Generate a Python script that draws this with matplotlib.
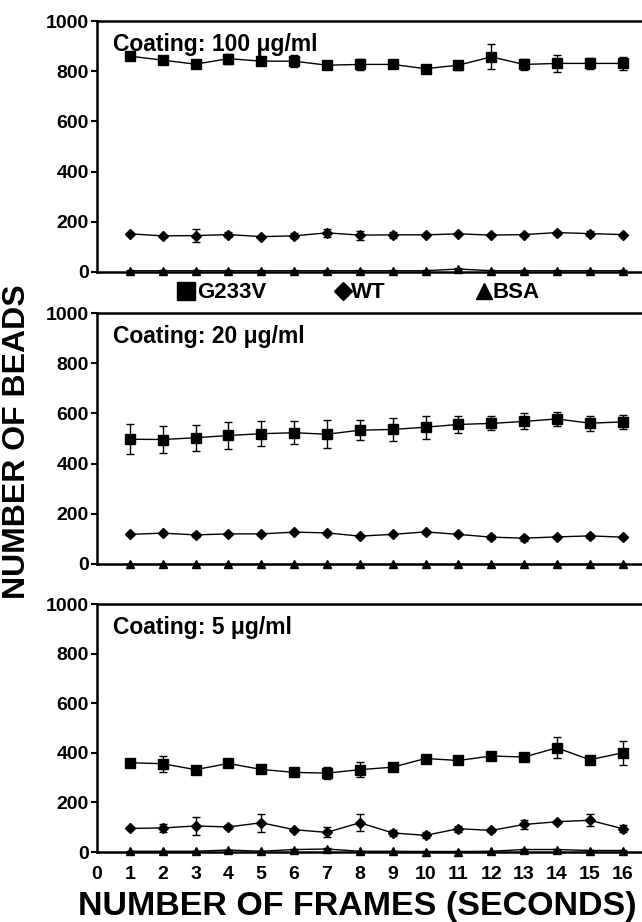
import matplotlib
matplotlib.use("Agg")
import matplotlib.pyplot as plt
from matplotlib.lines import Line2D

plt.rcParams['font.family'] = ['Liberation Sans', 'DejaVu Sans']
plt.rcParams['font.weight'] = 'bold'

frames = list(range(1, 17))
x_ticks = list(range(0, 17))
y_ticks = [0, 200, 400, 600, 800, 1000]
titles = ["Coating: 100 \u03bcg/ml", "Coating: 20 \u03bcg/ml", "Coating: 5 \u03bcg/ml"]
series_names = ["G233V", "WT", "BSA"]

# Panel 1: 100 ug/ml
g233v_100 = [860, 844, 828, 850, 840, 840, 824, 827, 827, 810, 824, 857, 827, 831, 831, 831]
g233v_100_err = [5, 5, 5, 20, 5, 25, 10, 22, 15, 8, 18, 50, 22, 33, 22, 26]
wt_100 = [152, 144, 145, 149, 141, 144, 156, 147, 148, 148, 152, 147, 149, 157, 153, 149]
wt_100_err = [3, 3, 26, 10, 3, 10, 15, 18, 12, 4, 3, 3, 3, 8, 10, 3]
bsa_100 = [5, 5, 5, 5, 5, 5, 5, 5, 5, 5, 12, 5, 5, 5, 5, 5]
bsa_100_err = [1, 1, 1, 1, 1, 1, 1, 1, 1, 1, 3, 1, 1, 1, 1, 1]

# Panel 2: 20 ug/ml
g233v_20 = [497, 496, 503, 512, 519, 523, 517, 533, 536, 545, 556, 560, 568, 578, 561, 566]
g233v_20_err = [60, 54, 52, 55, 50, 45, 55, 40, 47, 45, 35, 28, 32, 28, 30, 29]
wt_20 = [118, 123, 116, 120, 120, 127, 124, 111, 118, 128, 118, 107, 103, 108, 112, 107]
wt_20_err = [3, 3, 8, 4, 3, 4, 3, 3, 3, 3, 3, 8, 10, 3, 8, 3]
bsa_20 = [1, 1, 1, 1, 1, 1, 1, 1, 1, 1, 1, 1, 1, 1, 1, 1]
bsa_20_err = [0, 0, 0, 0, 0, 0, 0, 0, 0, 0, 0, 0, 0, 0, 0, 0]

# Panel 3: 5 ug/ml
g233v_5 = [360, 356, 332, 357, 333, 321, 318, 332, 342, 377, 369, 387, 383, 420, 372, 400]
g233v_5_err = [10, 33, 5, 8, 15, 12, 25, 30, 8, 5, 5, 5, 5, 42, 15, 49]
wt_5 = [95, 97, 105, 101, 118, 90, 79, 118, 77, 67, 94, 87, 111, 122, 128, 94]
wt_5_err = [4, 15, 37, 8, 37, 4, 20, 35, 12, 12, 12, 5, 20, 5, 25, 15]
bsa_5 = [3, 3, 3, 8, 3, 10, 12, 3, 3, 2, 2, 3, 10, 10, 6, 6]
bsa_5_err = [1, 1, 1, 2, 1, 3, 4, 1, 1, 1, 1, 1, 3, 3, 2, 2]

panels = [
    (g233v_100, g233v_100_err, wt_100, wt_100_err, bsa_100, bsa_100_err),
    (g233v_20, g233v_20_err, wt_20, wt_20_err, bsa_20, bsa_20_err),
    (g233v_5, g233v_5_err, wt_5, wt_5_err, bsa_5, bsa_5_err),
]

W, H = 642, 922
fig = plt.figure(figsize=(W / 100, H / 100), dpi=100)

left_px = 97
unit_px = 32.85
left = left_px / W
width = 1.0 - left
tops = [21, 313, 604]
bottoms = [272, 564, 852]

for i, (top, bot) in enumerate(zip(tops, bottoms)):
    ax = fig.add_axes([left, 1 - bot / H, width, (bot - top) / H])
    g, ge, w, we, b, be = panels[i]
    for vals, errs, m, ms in [(b, be, '^', 5.5), (w, we, 'D', 5), (g, ge, 's', 7)]:
        ax.errorbar(frames, vals, yerr=errs, color='black', marker=m, markersize=ms,
                    linewidth=1.0, elinewidth=1.0, capsize=3, capthick=1.0, clip_on=False)
    ax.set_ylim(0, 1000)
    ax.set_xlim(0, (W - left_px) / unit_px)
    ax.set_yticks(y_ticks)
    ax.tick_params(axis='y', direction='out', length=4, width=1.5, labelsize=14, pad=2)
    ax.spines['right'].set_visible(False)
    for s in ['left', 'top', 'bottom']:
        ax.spines[s].set_linewidth(1.8)
    for lab in ax.get_yticklabels():
        lab.set_fontweight('bold')
    if i == 2:
        ax.set_xticks(x_ticks)
        ax.tick_params(axis='x', length=0, labelsize=14, pad=10)
        for lab in ax.get_xticklabels():
            lab.set_fontweight('bold')
        ax.set_xlabel("NUMBER OF FRAMES (SECONDS)", fontsize=24.5, fontweight='bold')
        ax.xaxis.set_label_coords((357 - left_px) / (W - left_px), -(906 - bot) / (bot - top))
        ax.xaxis.label.set_va('center')
    else:
        ax.set_xticks([])
    ax.text(16 / (W - left_px), 1 - 23 / (bot - top), titles[i], transform=ax.transAxes,
            fontsize=16.5, fontweight='bold', va='center', ha='left')

fig.text(17 / W, 1 - 442 / H, "NUMBER OF BEADS", rotation=90, fontsize=23, fontweight='bold',
         va='center', ha='center')

# legend: marker centre x positions (px) and handle/text padding
leg_markers = ['s', 'D', '^']
leg_sizes = [13, 9.5, 12]
leg_centres = [186, 343, 484]
leg_pads = [0.2, 0.05, 0.1]
fs = 16
fs_px = fs * 100 / 72
hl = 0.6
for name, m, ms, cx, p in zip(series_names, leg_markers, leg_sizes, leg_centres, leg_pads):
    h = Line2D([], [], color='black', marker=m, linestyle='none', markersize=ms)
    lx = cx - hl * fs_px / 2
    fig.legend([h], [name], loc='center left', bbox_to_anchor=(lx / W, 1 - 293 / H),
               frameon=False, handletextpad=p, handlelength=hl, borderpad=0,
               borderaxespad=0, prop={'weight': 'bold', 'size': fs})

fig.savefig("out.png", dpi=100)
